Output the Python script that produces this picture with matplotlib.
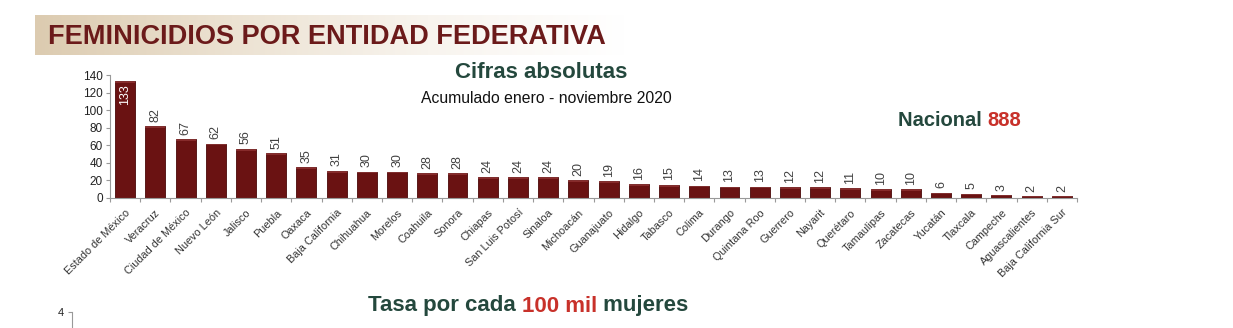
import numpy as np
import matplotlib.pyplot as plt
from matplotlib.colors import LinearSegmentedColormap

plt.rcParams['font.family'] = ['Liberation Sans', 'DejaVu Sans']

estados = [
    "Estado de México", "Veracruz", "Ciudad de México", "Nuevo León", "Jalisco",
    "Puebla", "Oaxaca", "Baja California", "Chihuahua", "Morelos", "Coahuila",
    "Sonora", "Chiapas", "San Luis Potosí", "Sinaloa", "Michoacán", "Guanajuato",
    "Hidalgo", "Tabasco", "Colima", "Durango", "Quintana Roo", "Guerrero",
    "Nayarit", "Querétaro", "Tamaulipas", "Zacatecas", "Yucatán", "Tlaxcala",
    "Campeche", "Aguascalientes", "Baja California Sur",
]
casos = [133, 82, 67, 62, 56, 51, 35, 31, 30, 30, 28, 28, 24, 24, 24, 20, 19,
         16, 15, 14, 13, 13, 12, 12, 11, 10, 10, 6, 5, 3, 2, 2]
nacional = 888
yticks = [0, 20, 40, 60, 80, 100, 120, 140]

GUINDA = "#6a1212"
VERDE = "#24483d"
ROJO = "#c8312a"
GRIS = "#404040"

W, H = 1233, 328
fig = plt.figure(figsize=(W / 100, H / 100), dpi=100)
fig.patch.set_facecolor("white")

# Title banner with a beige fade
banner = fig.add_axes([35 / W, 1 - 55 / H, 590 / W, 40 / H])
grad = np.linspace(0, 1, 256).reshape(1, -1)
cmap = LinearSegmentedColormap.from_list("banda", ["#dccbb0", "#ece2d2", "#f8f4ee", "#ffffff"])
banner.imshow(grad, aspect="auto", cmap=cmap, extent=[0, 1, 0, 1])
banner.axis("off")
fig.text(48 / W, 1 - 37 / H, "FEMINICIDIOS POR ENTIDAD FEDERATIVA",
         fontsize=19.5, fontweight="bold", color="#6b1a1a", va="center", ha="left")

# Main bar chart
ax = fig.add_axes([110 / W, 1 - 198 / H, 967 / W, 123 / H])
ax.set_facecolor("none")
x = np.arange(len(estados))
ax.bar(x, casos, width=0.66, color=GUINDA, edgecolor="#4a0808", linewidth=0.6, zorder=2)
# light bevel on top of each bar
tapa = [min(2.0, c * 0.4) for c in casos]
ax.bar(x, tapa, bottom=[c - t for c, t in zip(casos, tapa)],
       width=0.66, color="#a04040", alpha=0.55, linewidth=0, zorder=3)

for xi, c in zip(x, casos):
    if c > 120:
        ax.text(xi, c - 3, str(c), rotation=90, ha="center", va="top",
                fontsize=9, color="white", zorder=4)
    else:
        ax.text(xi, c + 5, str(c), rotation=90, ha="center", va="bottom",
                fontsize=9, color=GRIS, zorder=4)

ax.set_xlim(-0.5, len(estados) - 0.5)
ax.set_ylim(0, 140)
ax.set_yticks(yticks)
ax.set_yticklabels([str(t) for t in yticks], fontsize=8.5, color="#222222")
ax.set_xticks(np.arange(len(estados) + 1) - 0.5, minor=False)
ax.set_xticklabels([])
ax.set_xticks(x, minor=True)
ax.set_xticklabels(estados, minor=True, rotation=45, ha="right", rotation_mode="anchor",
                   fontsize=7.8, color="#333333")
ax.tick_params(axis="x", which="major", length=3, color="#999999")
ax.tick_params(axis="x", which="minor", length=0, pad=7)
ax.tick_params(axis="y", length=3, color="#999999", pad=2)
for side in ("top", "right"):
    ax.spines[side].set_visible(False)
for side in ("left", "bottom"):
    ax.spines[side].set_color("#999999")
    ax.spines[side].set_linewidth(0.8)

fig.text(541 / W, 1 - 73 / H, "Cifras absolutas", fontsize=16,
         fontweight="bold", color=VERDE, ha="center", va="center")
fig.text(546 / W, 1 - 99 / H, "Acumulado enero - noviembre 2020", fontsize=11.3,
         color="#111111", ha="center", va="center")

renderer = fig.canvas.get_renderer()


def texto_partido(xc, yc, partes, size, centrado=True):
    """Write a line of bold text made of coloured pieces."""
    anchos = []
    for txt, _ in partes:
        tt = fig.text(0, 0, txt, fontsize=size, fontweight="bold")
        anchos.append(tt.get_window_extent(renderer).width)
        tt.remove()
    x0 = xc - sum(anchos) / 2 if centrado else xc
    for (txt, col), w in zip(partes, anchos):
        fig.text(x0 / W, 1 - yc / H, txt, fontsize=size, fontweight="bold",
                 color=col, ha="left", va="center")
        x0 += w


texto_partido(898, 121, [("Nacional ", VERDE), (str(nacional), ROJO)], 14.5, centrado=False)

# Second panel heading (rate per 100k women)
texto_partido(528, 306, [("Tasa por cada ", VERDE), ("100 mil", ROJO), (" mujeres", VERDE)], 16)

# Top of the second panel's axis
ax2 = fig.add_axes([72 / W, -0.3, 900 / W, 0.3 + (1 - 312 / H)])
ax2.set_facecolor("none")
ax2.set_ylim(0, 4)
ax2.set_yticks([4])
ax2.set_yticklabels(["4"], fontsize=8, color="#222222")
ax2.set_xticks([])
ax2.tick_params(axis="y", length=3, color="#999999", pad=3)
for side in ("top", "right", "bottom"):
    ax2.spines[side].set_visible(False)
ax2.spines["left"].set_color("#999999")

fig.savefig("out.png", dpi=100, facecolor="white")
